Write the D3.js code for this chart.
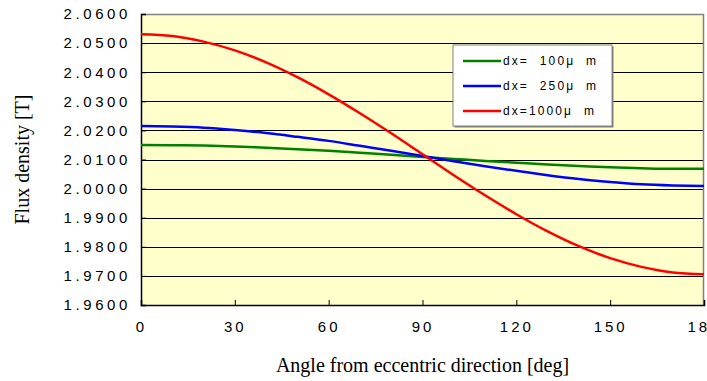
<!DOCTYPE html>
<html>
<head>
<meta charset="utf-8">
<script src="https://cdn.jsdelivr.net/npm/d3@7"></script>
<style>
  body { margin: 0; background: #fff; }
  svg { display: block; }
</style>
</head>
<body>
<div id="chart"></div>
<script>
// angle (deg) and flux density [T]
var angles = [0, 10, 20, 30, 40, 50, 60, 70, 80, 90, 100, 110, 120, 130, 140, 150, 160, 170, 180];
var flux100 = [2.0150, 2.0149, 2.0148, 2.0145, 2.0140, 2.0135, 2.0130, 2.0123, 2.0116, 2.0109,
  2.0102, 2.0095, 2.0089, 2.0083, 2.0078, 2.0073, 2.0070, 2.0068, 2.0068];
var flux250 = [2.0215, 2.0213, 2.0209, 2.0201, 2.0191, 2.0178, 2.0164, 2.0147, 2.0130, 2.0112,
  2.0094, 2.0077, 2.0061, 2.0046, 2.0033, 2.0023, 2.0015, 2.0011, 2.0009];
var flux1000 = [2.0530, 2.0524, 2.0505, 2.0475, 2.0434, 2.0383, 2.0324, 2.0259, 2.0190, 2.0118,
  2.0046, 1.9977, 1.9912, 1.9853, 1.9802, 1.9761, 1.9731, 1.9712, 1.9706];
var seriesNames = ["dx=  100\u03bc  m", "dx=  250\u03bc  m", "dx=1000\u03bc  m"];
var seriesColors = ["#008000", "#0000ff", "#ff0000"];
var xTicks = [0, 30, 60, 90, 120, 150, 180];
var yTicks = [1.96, 1.97, 1.98, 1.99, 2.00, 2.01, 2.02, 2.03, 2.04, 2.05, 2.06];

var W = 707, H = 381;
var margin = { top: 14, right: 3, bottom: 76, left: 141 },
  width = W - margin.left - margin.right,
  height = H - margin.top - margin.bottom;

var svg = d3.select("#chart")
  .append("svg")
  .attr("width", W)
  .attr("height", H)
  .append("g")
  .attr("transform", "translate(" + margin.left + "," + margin.top + ")");

var x = d3.scaleLinear().domain([0, 180]).range([0, width]);
var y = d3.scaleLinear().domain([1.96, 2.06]).range([height, 0]);

// plot background
svg.append("rect")
  .attr("width", width)
  .attr("height", height)
  .attr("fill", "#ffffcc");

// horizontal grid
svg.append("g")
  .selectAll("line")
  .data(yTicks.slice(1, -1))
  .enter().append("line")
  .attr("x1", 0).attr("x2", width)
  .attr("y1", function (d) { return Math.round(y(d)) + 0.5; })
  .attr("y2", function (d) { return Math.round(y(d)) + 0.5; })
  .attr("stroke", "#000")
  .attr("stroke-width", 1);

// top and right border (grey)
svg.append("path")
  .attr("d", "M0,0.5H" + (width - 0.5) + "V" + height)
  .attr("fill", "none")
  .attr("stroke", "#808080")
  .attr("stroke-width", 1.5);

// Y axis
var yAxis = svg.append("g")
  .call(d3.axisLeft(y).tickValues(yTicks).tickSize(-5).tickPadding(10)
    .tickFormat(d3.format(".4f")));
yAxis.select(".domain").attr("stroke", "#000").attr("stroke-width", 1.5);
yAxis.selectAll("text")
  .style("font-family", "Liberation Sans, Arial, sans-serif")
  .style("font-size", "15px")
  .style("letter-spacing", "3.6px")
  .attr("fill", "#000");

// X axis
var xAxis = svg.append("g")
  .attr("transform", "translate(0," + height + ")")
  .call(d3.axisBottom(x).tickValues(xTicks).tickSize(-5).tickPadding(16));
xAxis.select(".domain").attr("stroke", "#000").attr("stroke-width", 1.5);
xAxis.selectAll("text")
  .style("font-family", "Liberation Sans, Arial, sans-serif")
  .style("font-size", "15px")
  .style("letter-spacing", "3px")
  .attr("fill", "#000");

// curves
var allSeries = [flux100, flux250, flux1000];
var line = d3.line()
  .x(function (d, i) { return x(angles[i]); })
  .y(function (d) { return y(d); })
  .curve(d3.curveMonotoneX);

svg.append("g")
  .selectAll("path")
  .data(allSeries)
  .enter().append("path")
  .attr("d", line)
  .attr("fill", "none")
  .attr("stroke", function (d, i) { return seriesColors[i]; })
  .attr("stroke-width", 2.5);

// legend
var lg = svg.append("g").attr("transform", "translate(" + (453 - margin.left) + "," + (45 - margin.top) + ")");
lg.append("rect")
  .attr("x", 1.5).attr("y", 1.5)
  .attr("width", 159).attr("height", 81)
  .attr("fill", "#808080");
lg.append("rect")
  .attr("width", 159).attr("height", 81)
  .attr("fill", "#fff")
  .attr("stroke", "#808080")
  .attr("stroke-width", 1);

var rows = lg.selectAll("g.item")
  .data(seriesNames)
  .enter().append("g")
  .attr("class", "item")
  .attr("transform", function (d, i) { return "translate(0," + (16 + i * 25) + ")"; });
rows.append("line")
  .attr("x1", 10).attr("x2", 48)
  .attr("stroke", function (d, i) { return seriesColors[i]; })
  .attr("stroke-width", 2.5);
rows.append("text")
  .attr("x", 50)
  .attr("dy", "0.35em")
  .style("font-family", "Liberation Sans, Arial, sans-serif")
  .style("font-size", "12px")
  .style("letter-spacing", "2.1px")
  .style("white-space", "pre")
  .text(function (d) { return d; });

// axis titles
svg.append("text")
  .attr("x", width / 2)
  .attr("y", 372 - margin.top)
  .attr("text-anchor", "middle")
  .style("font-family", "Liberation Serif, Times New Roman, serif")
  .style("font-size", "20px")
  .text("Angle from eccentric direction [deg]");

svg.append("text")
  .attr("transform", "rotate(-90)")
  .attr("x", -height / 2)
  .attr("y", 29 - margin.left)
  .attr("text-anchor", "middle")
  .style("font-family", "Liberation Serif, Times New Roman, serif")
  .style("font-size", "20px")
  .text("Flux density [T]");
</script>
</body>
</html>
